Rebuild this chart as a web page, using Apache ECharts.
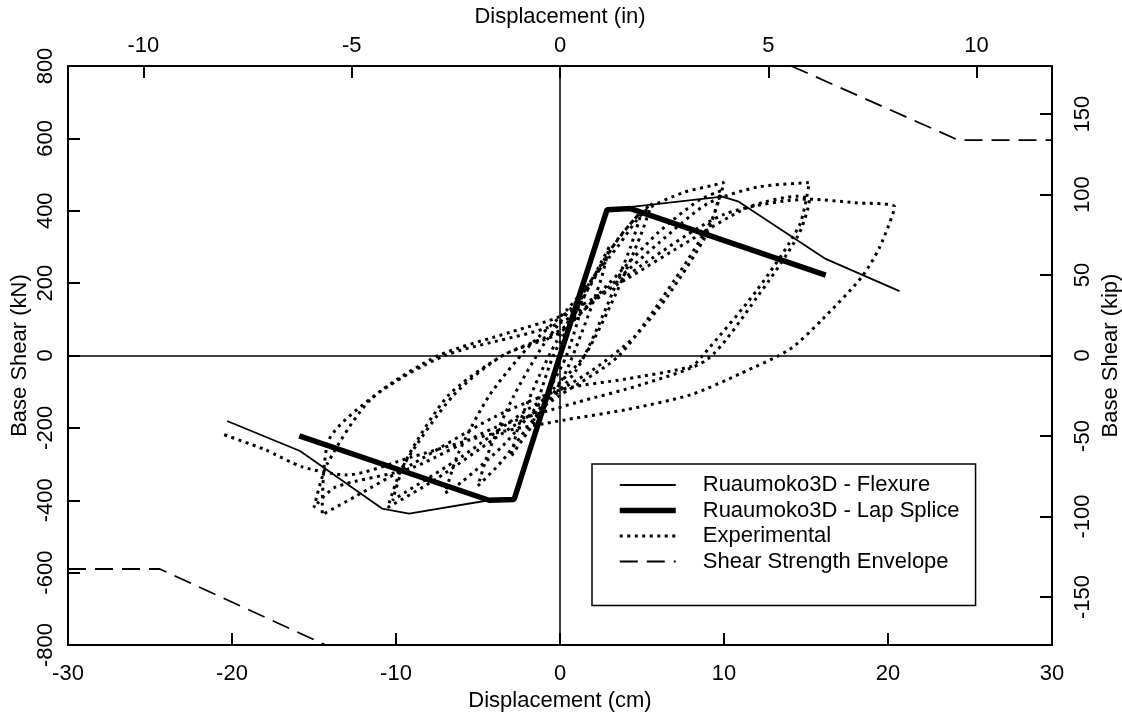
<!DOCTYPE html>
<html>
<head>
<meta charset="utf-8">
<title>Base shear vs displacement</title>
<script src="https://cdn.jsdelivr.net/npm/echarts@6/dist/echarts.min.js"></script>
<style>
  html, body { margin: 0; padding: 0; background: #fff; }
  #chart { width: 1122px; height: 712px; }
</style>
</head>
<body>
<div id="chart"></div>
<script>
// displacement in cm, base shear in kN
const flexure = [
  [-20.3, -181], [-15.85, -264], [-10.85, -423], [-9.2, -437], [-4.33, -400],
  [-2.8, -398], [0, 0], [2.87, 403], [9.9, 439], [10.9, 425], [16.2, 267], [20.7, 178]
]
const lapSplice = [
  [-15.9, -222], [-4.33, -400], [-2.8, -398], [0, 0], [2.87, 403], [4.3, 406], [16.2, 222]
]
const envelopeNeg = [[-30, -590], [-24.4, -590], [-14.3, -800]]
const envelopePos = [[14.1, 800], [24.3, 595], [30, 595]]
const experimental = [
  [0, 0], [0.8, 100], [1.6, 190], [1.3, 130], [0.4, 0], [-0.6, -90], [-1.6, -180], [-1.3, -120], [-0.4, 0],
  [1, 120], [2.2, 230], [3, 300], [2.5, 210], [1.3, 60], [0.2, -60], [-1.5, -180], [-3, -280], [-2.5, -190], [-1.3, -60], [-0.2, 40],
  [1.8, 190], [3.5, 320], [5, 400], [4.3, 300], [2.8, 130], [1, -40], [-1.5, -170], [-3.5, -290], [-5, -360], [-4.3, -260], [-2.8, -110], [-1, 30],
  [1.5, 180], [3.2, 300], [4.6, 380], [5.6, 420], [4.9, 330], [3.4, 170], [1.5, 0], [-1, -120], [-3.5, -250], [-6, -350], [-7, -380],
  [-6.2, -270], [-4.3, -110], [-2, 20], [0.5, 130],
  [3.5, 300], [5.2, 400], [7.5, 450], [9.3, 470], [10, 478],
  [9.3, 380], [7, 210], [3.6, 0], [0, -110], [-4, -230], [-7.5, -340], [-10.5, -420],
  [-9.6, -308], [-6.5, -110], [-3.5, 0], [0, 64], [3, 200], [6, 340], [8.5, 430], [9.8, 455],
  [9, 340], [6.5, 160], [4.5, 50], [2, -40], [-2, -150], [-6, -280], [-9.5, -380], [-10.2, -400],
  [-9.4, -290], [-6.8, -110], [-3.5, 0], [0, 70], [3, 190], [6, 310], [9, 420], [12, 465], [15.2, 478],
  [14.6, 360], [12, 180], [8.7, 0], [8, -30], [4, -65], [0.1, -94], [-4, -170], [-9, -300], [-12.5, -390], [-14.5, -440],
  [-14.1, -234], [-11, -100], [-7.4, 0], [-3, 65], [0, 108], [4, 210], [8, 320], [11.5, 410], [14.5, 440], [15.2, 430],
  [14.5, 330], [12, 160], [9, -10], [5, -80], [1, -130], [-4, -200], [-9, -310], [-13.7, -364], [-15, -420],
  [-14.2, -300], [-11.5, -120], [-7, 0], [0, 90], [5, 250], [10, 390], [15.2, 432], [18, 422], [20.4, 411],
  [19.5, 300], [18.4, 217], [16, 100], [14, 17], [11, -50], [8, -108], [4, -150], [0.3, -178], [-4, -215],
  [-9, -280], [-13, -330], [-15.7, -308], [-18, -260], [-20.6, -217]
]
// secondary axes: inches on top, kips on right
const inchTicks = [-10, -5, 0, 5, 10]
const kipTicks = [-150, -100, -50, 0, 50, 100, 150]
const CM_PER_IN = 2.54
const KN_PER_KIP = 4.448

const FONT = 'Liberation Sans, Arial, Helvetica, sans-serif'
const axisCommon = {
  axisLine: { show: true, onZero: false, lineStyle: { color: '#000', width: 2 } },
  axisTick: { show: true, inside: true, length: 12, lineStyle: { color: '#000', width: 2 } },
  splitLine: { show: false },
  nameTextStyle: { color: '#000', fontSize: 22, fontFamily: FONT },
  nameLocation: 'middle',
  nameMoveOverlap: false
}
const labelCommon = { color: '#000', fontSize: 22, fontFamily: FONT }

const chart = echarts.init(document.getElementById('chart'))
const option = {
  animation: false,
  backgroundColor: '#fff',
  grid: { left: 68, right: 70, top: 66, bottom: 67, containLabel: false, outerBoundsMode: 'none' },
  legend: {
    orient: 'vertical',
    left: 592,
    top: 464,
    itemWidth: 56,
    itemHeight: 14,
    itemGap: 3.5,
    padding: [10, 16, 33, 25],
    borderColor: '#000',
    borderWidth: 1.5,
    backgroundColor: '#fff',
    itemStyle: { opacity: 0 },   // line only, no marker in the legend
    textStyle: { color: '#000', fontSize: 22, fontFamily: FONT, padding: [0, 0, 0, 22] },
    data: [
      { name: 'Ruaumoko3D - Flexure', lineStyle: { width: 1.8 } },
      { name: 'Ruaumoko3D - Lap Splice', lineStyle: { width: 5.5 } },
      { name: 'Experimental', lineStyle: { width: 3 } },
      { name: 'Shear Strength Envelope', lineStyle: { width: 1.8 } }
    ]
  },
  xAxis: [
    Object.assign({}, axisCommon, {
      type: 'value', position: 'bottom', min: -30, max: 30, interval: 10,
      name: 'Displacement (cm)', nameGap: 45,
      axisLabel: Object.assign({}, labelCommon, { margin: 18 })
    }),
    Object.assign({}, axisCommon, {
      type: 'value', position: 'top', min: -30, max: 30,
      name: 'Displacement (in)', nameGap: 38,
      axisTick: Object.assign({}, axisCommon.axisTick, { customValues: inchTicks.map(v => v * CM_PER_IN) }),
      axisLabel: Object.assign({}, labelCommon, {
        margin: 9,
        customValues: inchTicks.map(v => v * CM_PER_IN),
        formatter: v => String(Math.round(v / CM_PER_IN))
      })
    })
  ],
  yAxis: [
    Object.assign({}, axisCommon, {
      type: 'value', position: 'left', min: -800, max: 800, interval: 200,
      name: 'Base Shear (kN)', nameGap: 37, nameRotate: 90,
      axisLabel: Object.assign({}, labelCommon, { rotate: 90, margin: 11 })
    }),
    Object.assign({}, axisCommon, {
      type: 'value', position: 'right', min: -800, max: 800,
      name: 'Base Shear (kip)', nameGap: 48, nameRotate: 90,
      axisTick: Object.assign({}, axisCommon.axisTick, { customValues: kipTicks.map(v => v * KN_PER_KIP) }),
      axisLabel: Object.assign({}, labelCommon, {
        rotate: 90,
        margin: 20,
        customValues: kipTicks.map(v => v * KN_PER_KIP),
        formatter: v => String(Math.round(v / KN_PER_KIP))
      })
    })
  ],
  series: [
    {
      name: 'Experimental',
      type: 'line',
      data: experimental,
      symbol: 'none',
      smooth: 0.25,
      z: 2,
      lineStyle: { color: '#000', width: 3, type: [3, 4.5] },
      // zero lines through the origin
      markLine: {
        silent: true,
        symbol: 'none',
        label: { show: false },
        lineStyle: { color: '#000', width: 1.5, type: 'solid' },
        data: [{ xAxis: 0 }, { yAxis: 0 }]
      }
    },
    {
      name: 'Ruaumoko3D - Flexure',
      type: 'line',
      data: flexure,
      symbol: 'none',
      z: 3,
      lineStyle: { color: '#000', width: 1.8 }
    },
    {
      name: 'Ruaumoko3D - Lap Splice',
      type: 'line',
      data: lapSplice,
      symbol: 'none',
      z: 4,
      lineStyle: { color: '#000', width: 5.5 }
    },
    {
      name: 'Shear Strength Envelope',
      type: 'line',
      data: envelopeNeg,
      symbol: 'none',
      lineStyle: { color: '#000', width: 1.8, type: [18, 9] }
    },
    {
      name: 'Shear Strength Envelope',
      type: 'line',
      data: envelopePos,
      symbol: 'none',
      lineStyle: { color: '#000', width: 1.8, type: [18, 9] }
    }
  ]
}
chart.setOption(option)
</script>
</body>
</html>
